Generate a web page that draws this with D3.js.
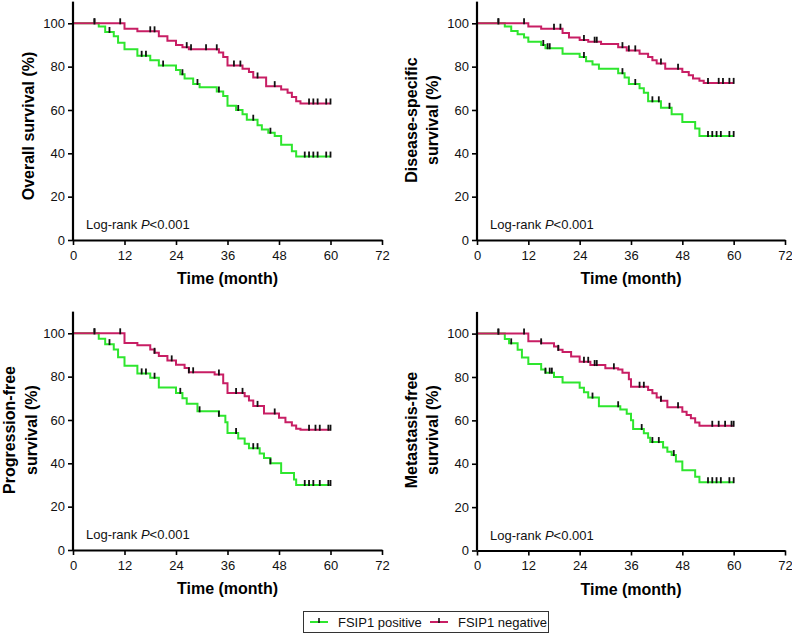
<!DOCTYPE html>
<html>
<head>
<meta charset="utf-8">
<script src="https://cdn.jsdelivr.net/npm/d3@7"></script>
<style>
  body { margin: 0; background: #fff; }
  svg { font-family: Arial, "Liberation Sans", sans-serif; }
</style>
</head>
<body>
<div class="chart"></div>
<script>
// axis ticks
const monthTicks = [0, 12, 24, 36, 48, 60, 72];
const pctTicks = [0, 20, 40, 60, 80, 100];

// Overall survival
const osPosT = [6, 7.5, 9.5, 10.5, 12, 15, 18, 20, 24, 25, 26, 28, 29.5, 33.5, 35, 36, 38, 39.5, 40.5, 43, 44, 45.5, 47, 48.5, 51, 52];
const osPosS = [98.5, 96, 94, 91, 88, 85, 83, 80.5, 78.5, 76.5, 74.5, 72, 70.5, 68.5, 66.5, 62, 60, 58, 55.5, 53, 51, 49.5, 48, 44, 41, 38.5];
const osPosC = [5, 8.5, 16, 17, 21, 25.5, 29, 34, 38.5, 42, 46, 54, 55, 56, 57, 59, 60];
const osNegT = [12, 15, 20, 22, 24, 25.5, 27, 34, 35, 36, 39.5, 41, 42, 45, 48.5, 50, 51, 52, 53];
const osNegS = [97.5, 96.3, 94, 92, 90, 89, 88, 86.5, 84.5, 80.5, 79, 77.5, 75, 71, 69.5, 68, 66, 64, 63];
const osNegC = [5, 11, 18, 19, 26.5, 27.5, 31, 33.5, 37.5, 39, 43, 47, 55, 56, 57, 59, 60];

// Disease-specific survival
const dssPosT = [6.5, 8, 9.5, 11, 12, 15, 16, 20, 24, 25.5, 27, 28.5, 33, 34.5, 35.5, 38, 39, 40, 43, 45.5, 48, 51, 52];
const dssPosS = [98.5, 96.5, 95, 93.5, 91.5, 90, 88.5, 86, 84.5, 82.5, 81, 79, 77, 75, 72, 70, 68, 64, 61, 58, 54.5, 51.5, 48];
const dssPosC = [5, 15.5, 16.5, 17, 25, 34, 37, 41, 42.5, 45, 54, 55, 56, 57, 59, 60];
const dssNegT = [12, 15, 20, 21.5, 24, 26, 29, 33, 35, 38, 40, 41, 42, 44, 48, 49.5, 50.5, 52, 53];
const dssNegS = [98.5, 97.5, 95.5, 93.5, 92.3, 91.5, 90.5, 89, 87.5, 86, 84.5, 83, 81.5, 79, 77.5, 76, 74.5, 73.5, 72.5];
const dssNegC = [5, 11, 18, 19.5, 25, 27.5, 28, 34, 35.5, 37, 43, 47, 54, 56.5, 57.5, 59, 60];

// Progression-free survival
const pfsPosT = [6, 7.5, 9.5, 10.5, 12, 15, 18, 20, 24, 25.5, 26.5, 29, 34, 35.5, 36, 38.5, 40, 41, 43.5, 44.5, 46, 48.5, 51.5, 52];
const pfsPosS = [97.5, 95, 92.5, 89, 85, 81.5, 79.5, 75, 72.5, 70, 67.5, 64, 62, 59, 54, 51.5, 49, 47, 44.5, 42.5, 40, 35.5, 32.5, 30];
const pfsPosC = [5, 8.5, 16, 17, 19, 25, 29.5, 34, 38, 42, 43, 46, 54, 55, 56, 57.5, 59.5, 60];
const pfsNegT = [12, 15, 18, 19, 20, 22, 24, 26, 27, 33, 35, 36, 40, 41, 42, 44.5, 48, 49.5, 51, 52, 53];
const pfsNegS = [95.5, 94.5, 92.5, 91, 89.5, 87.5, 85.5, 84, 82, 81, 77, 72.5, 71, 69, 66.5, 63, 61, 59, 57.5, 56, 55.5];
const pfsNegC = [5, 11, 19, 23, 27, 28, 34, 38, 39.5, 43, 47, 55, 56.5, 57.5, 59.5, 60];

// Metastasis-free survival
const mfsPosT = [6.5, 7.5, 9.5, 10.5, 12, 15, 16, 18, 20, 24, 25, 26, 28.5, 33.5, 35, 36, 36.5, 39, 40, 40.5, 43.5, 44.5, 45.5, 46.5, 48, 51, 52];
const mfsPosS = [97.5, 95.5, 92.5, 89, 86, 83.5, 82, 80, 77.5, 75, 73, 70.5, 66.5, 65, 63, 60, 56, 54, 52, 50, 47.5, 45.5, 44, 41, 37, 34, 31.5];
const mfsPosC = [5, 8, 16, 17, 17.5, 27, 33, 38.5, 41, 42.5, 46, 54, 55, 56, 57, 59, 60];
const mfsNegT = [12, 15, 18, 19, 20, 22, 24, 26.5, 30, 33, 34, 35.5, 36, 40, 41, 42, 43, 44.5, 48, 49, 50, 51, 52];
const mfsNegS = [96.5, 95.5, 94, 92.5, 91.5, 89.5, 87, 85.5, 84, 83.5, 82, 79, 75.5, 74, 72.5, 70.5, 69, 66, 64, 62.5, 61, 59, 57.5];
const mfsNegC = [5, 11, 15, 19, 25, 26, 27.5, 28, 32, 38, 39, 43, 47, 55, 56.5, 58, 59.5, 60];

const groups = ["FSIP1 positive", "FSIP1 negative"];
const colors = ["#2ee62e", "#c81e64"];

const width = 792, height = 635;

// panel layout: left x (month 0), right x (month 72), bottom y (0%), y of 100%
const panels = [
  { label: ["Overall survival (%)"], x0: 73, x1: 382, y0: 240, y100: 23.3, labX: [28], labY: 126,
    pos: [osPosT, osPosS, osPosC], neg: [osNegT, osNegS, osNegC] },
  { label: ["Disease-specific", "survival (%)"], x0: 477, x1: 785, y0: 240, y100: 23.3, labX: [411, 432], labY: 120,
    pos: [dssPosT, dssPosS, dssPosC], neg: [dssNegT, dssNegS, dssNegC] },
  { label: ["Progression-free", "survival (%)"], x0: 73, x1: 382, y0: 550, y100: 333.3, labX: [9, 31], labY: 430,
    pos: [pfsPosT, pfsPosS, pfsPosC], neg: [pfsNegT, pfsNegS, pfsNegC] },
  { label: ["Metastasis-free", "survival (%)"], x0: 477, x1: 785, y0: 550.5, y100: 333.6, labX: [411, 432], labY: 430,
    pos: [mfsPosT, mfsPosS, mfsPosC], neg: [mfsNegT, mfsNegS, mfsNegC] }
];

const svg = d3.select(".chart").append("svg")
    .attr("width", width)
    .attr("height", height);

function survAt(T, S, t) {
  let s = 100;
  T.forEach((d, i) => { if (d <= t) s = S[i]; });
  return s;
}

panels.forEach(p => {
  const x = d3.scaleLinear().domain([0, 72]).range([p.x0, p.x1]);
  const y = d3.scaleLinear().domain([0, 100]).range([p.y0, p.y100]);
  const g = svg.append("g");

  // curves (drawn with step-after)
  const line = d3.line()
      .x(d => x(d[0]))
      .y(d => y(d[1]))
      .curve(d3.curveStepAfter);

  [p.pos, p.neg].forEach((grp, gi) => {
    const [T, S, C] = grp;
    const pts = [[0, 100]].concat(T.map((t, i) => [t, S[i]]));
    pts.push([60, S[S.length - 1]]);
    g.append("path")
        .attr("d", line(pts))
        .attr("fill", "none")
        .attr("stroke", colors[gi])
        .attr("stroke-width", 2);

    g.append("g")
        .attr("stroke", "#111")
        .attr("stroke-width", 1.8)
        .selectAll("line")
        .data(C)
        .join("line")
        .attr("x1", d => x(d))
        .attr("x2", d => x(d))
        .attr("y1", d => y(survAt(T, S, d)) + 1)
        .attr("y2", d => y(survAt(T, S, d)) - 5);
  });

  // axes
  const xAxis = g.append("g")
      .attr("transform", `translate(0,${p.y0})`)
      .call(d3.axisBottom(x).tickValues(monthTicks).tickSize(5).tickSizeOuter(0));
  const yAxis = g.append("g")
      .attr("transform", `translate(${p.x0},0)`)
      .call(d3.axisLeft(y).tickValues(pctTicks).tickSize(5).tickSizeOuter(0));
  yAxis.select(".domain").attr("d", `M0,${p.y0}V${y(110)}`);
  [xAxis, yAxis].forEach(a => {
    a.select(".domain").attr("stroke", "#000").attr("stroke-width", 2.2);
    a.selectAll(".tick line").attr("stroke", "#000").attr("stroke-width", 1.6);
    a.selectAll(".tick text")
        .attr("font-size", 13)
        .attr("font-family", "Arial, 'Liberation Sans', sans-serif")
        .attr("fill", "#111");
  });
  xAxis.selectAll(".tick text").attr("dy", "0.9em");

  // axis titles
  g.append("text")
      .attr("x", (p.x0 + p.x1) / 2)
      .attr("y", p.y0 + 44)
      .attr("text-anchor", "middle")
      .attr("font-weight", "bold")
      .attr("font-size", 16)
      .text("Time (month)");

  p.label.forEach((l, i) => {
    g.append("text")
        .attr("transform", `translate(${p.labX[i]},${p.labY}) rotate(-90)`)
        .attr("text-anchor", "middle")
        .attr("dominant-baseline", "central")
        .attr("font-weight", "bold")
        .attr("font-size", 16)
        .text(l);
  });

  const lr = g.append("text")
      .attr("x", p.x0 + 13)
      .attr("y", p.y0 - 11)
      .attr("font-size", 13)
      .attr("fill", "#111");
  lr.append("tspan").text("Log-rank ");
  lr.append("tspan").attr("font-style", "italic").text("P");
  lr.append("tspan").text("<0.001");
});

// legend
const legend = svg.append("g");
legend.append("rect")
    .attr("x", 303.5).attr("y", 611.5)
    .attr("width", 245).attr("height", 21)
    .attr("fill", "#fff").attr("stroke", "#333").attr("stroke-width", 1);

const legX = [310, 430];
groups.forEach((name, i) => {
  const lg = legend.append("g").attr("transform", `translate(${legX[i]},622)`);
  lg.append("line").attr("x1", 0).attr("x2", 18)
      .attr("stroke", colors[i]).attr("stroke-width", 2);
  lg.append("line").attr("x1", 9).attr("x2", 9).attr("y1", 1).attr("y2", -4)
      .attr("stroke", "#111").attr("stroke-width", 1.6);
  lg.append("text").attr("x", 28).attr("dy", "0.35em")
      .attr("font-size", 13).attr("fill", "#111").text(name);
});
</script>
</body>
</html>
